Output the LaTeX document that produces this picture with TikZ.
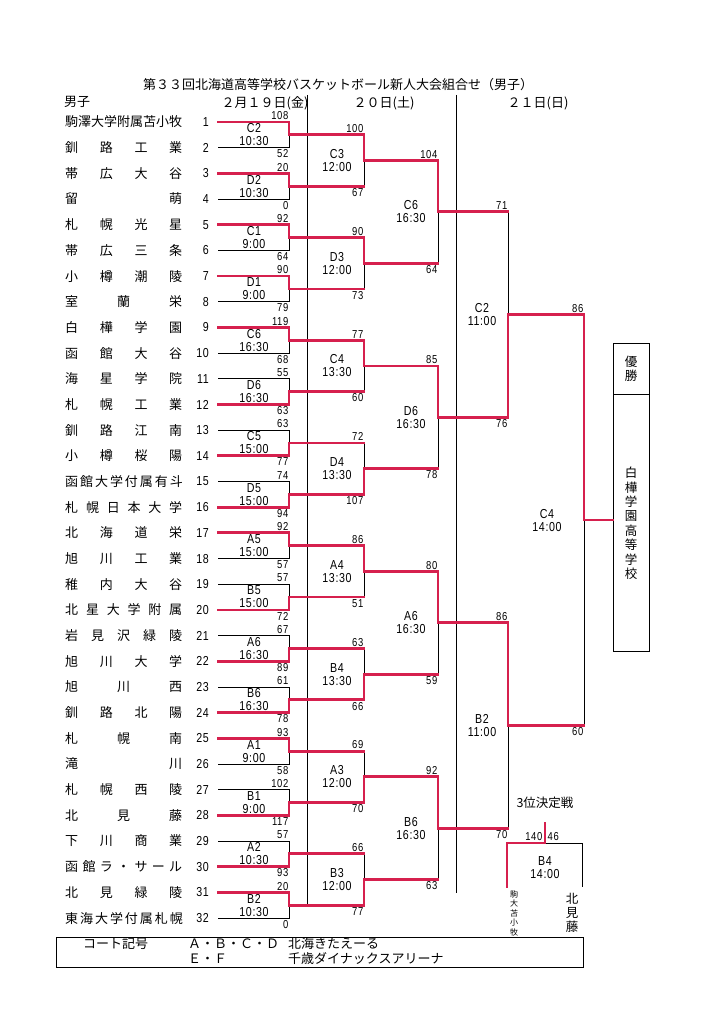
\documentclass[tikz,border=0pt]{standalone}
\usepackage{fontspec}
\setmainfont{Liberation Sans}
\newfontfamily\jp{Noto Sans CJK JP}
\newfontfamily\narrow[FakeStretch=0.82, LetterSpace=5]{Liberation Sans}
\usepackage{tikz}
\usetikzlibrary{positioning, calc}
\definecolor{winred}{RGB}{214,32,78}
\tikzstyle{team} = [anchor=west, inner sep=0pt, font=\jp\fontsize{13}{13}\selectfont]
\tikzstyle{num} = [anchor=east, inner xsep=9pt, inner ysep=0pt, font=\narrow\fontsize{13}{13}\selectfont]
\tikzstyle{score} = [inner xsep=0.5pt, inner ysep=2pt, font=\narrow\fontsize{11.5}{11.5}\selectfont]
\tikzstyle{game} = [align=center, inner sep=0pt, font=\narrow\fontsize{13}{13}\selectfont]
\tikzstyle{head} = [inner sep=0pt, font=\jp\fontsize{13}{13}\selectfont]
\tikzstyle{panel} = [draw, line width=0.8pt, minimum width=36pt, inner sep=0pt, align=center, font=\jp\fontsize{12.5}{14.4}\selectfont]
\tikzstyle{lose} = [draw=black, line width=0.8pt]
\tikzstyle{win} = [draw=winred, line width=2.8pt, line cap=rect]

% one row of the draw: number, school
\newcommand{\team}[2]{%
  \node[team] (t#1) at (65,{122+(#1-1)*25.68}) {\makebox[117pt][s]{#2}};
  \node[num] (n#1) at (218,{122+(#1-1)*25.68}) {#1};
}
% first round game
\newcommand{\opening}[7]{%
  \coordinate (#1) at ($(c1 |- #2)!.5!(c1 |- #3)$);
  \draw[lose] (#2) -- (c1 |- #2) -- (c1 |- #3) -- (#3);
  \draw[win] (#4) -- (c1 |- #4) -- (#1);
  \node[game] (#1-l) at ($(#1)+(-35,0)$) {#5};
  \node[score, anchor=south east] (#1-a) at (c1 |- #2) {#6};
  \node[score, anchor=north east] (#1-b) at (c1 |- #3) {#7};
}
% later game
\newcommand{\bout}[9]{%
  \coordinate (#1) at ($(#2 |- #3)!.5!(#2 |- #4)$);
  \draw[lose] (#2 |- #3) -- (#2 |- #4);
  \draw[win] (#3) -- (#2 |- #3);
  \draw[win] (#4) -- (#2 |- #4);
  \draw[win] (#2 |- #5) -- (#1);
  \node[game] (#1-l) at ($(#1)+(#7,0)$) {#6};
  \node[score, anchor=south east] (#1-a) at (#2 |- #3) {#8};
  \node[score, anchor=north east] (#1-b) at (#2 |- #4) {#9};
}

\begin{document}
\begin{tikzpicture}[x=1pt, y=-1pt]
\useasboundingbox (0,0) rectangle (724,1024);

\node[head] (title) at (338,85) {第３３回北海道高等学校バスケットボール新人大会組合せ（男子）};
\node[head, anchor=west] (boys) at (64,102) {男子};
\node[head] (day1) at (265,103) {２月１９日(金)};
\node[head] (day2) at (384,103) {２０日(土)};
\node[head] (day3) at (538,103) {２１日(日)};

\coordinate (d1a) at (307,95);
\coordinate (d1b) at (307,905);
\coordinate (d2a) at (456.5,95);
\coordinate (d2b) at (456.5,893);
\draw[lose] (d1a) -- (d1b);
\draw[lose] (d2a) -- (d2b);

\coordinate (c1) at (289,0);
\coordinate (c2) at (364,0);
\coordinate (c3) at (438,0);
\coordinate (c4) at (508,0);
\coordinate (c5) at (584,0);

\team{1}{駒澤大学附属苫小牧}
\team{2}{釧 路 工 業}
\team{3}{帯 広 大 谷}
\team{4}{留 萌}
\team{5}{札 幌 光 星}
\team{6}{帯 広 三 条}
\team{7}{小 樽 潮 陵}
\team{8}{室 蘭 栄}
\team{9}{白 樺 学 園}
\team{10}{函 館 大 谷}
\team{11}{海 星 学 院}
\team{12}{札 幌 工 業}
\team{13}{釧 路 江 南}
\team{14}{小 樽 桜 陽}
\team{15}{函 館 大 学 付 属 有 斗}
\team{16}{札 幌 日 本 大 学}
\team{17}{北 海 道 栄}
\team{18}{旭 川 工 業}
\team{19}{稚 内 大 谷}
\team{20}{北 星 大 学 附 属}
\team{21}{岩 見 沢 緑 陵}
\team{22}{旭 川 大 学}
\team{23}{旭 川 西}
\team{24}{釧 路 北 陽}
\team{25}{札 幌 南}
\team{26}{滝 川}
\team{27}{札 幌 西 陵}
\team{28}{北 見 藤}
\team{29}{下 川 商 業}
\team{30}{函 館 ラ ・ サ ー ル}
\team{31}{北 見 緑 陵}
\team{32}{東 海 大 学 付 属 札 幌}

% 19th
\opening{g1-1}{n1}{n2}{n1}{C2\\10:30}{108}{52}
\opening{g1-2}{n3}{n4}{n3}{D2\\10:30}{20}{0}
\opening{g1-3}{n5}{n6}{n5}{C1\\9:00}{92}{64}
\opening{g1-4}{n7}{n8}{n7}{D1\\9:00}{90}{79}
\opening{g1-5}{n9}{n10}{n9}{C6\\16:30}{119}{68}
\opening{g1-6}{n11}{n12}{n12}{D6\\16:30}{55}{63}
\opening{g1-7}{n13}{n14}{n14}{C5\\15:00}{63}{77}
\opening{g1-8}{n15}{n16}{n16}{D5\\15:00}{74}{94}
\opening{g1-9}{n17}{n18}{n17}{A5\\15:00}{92}{57}
\opening{g1-10}{n19}{n20}{n20}{B5\\15:00}{57}{72}
\opening{g1-11}{n21}{n22}{n22}{A6\\16:30}{67}{89}
\opening{g1-12}{n23}{n24}{n24}{B6\\16:30}{61}{78}
\opening{g1-13}{n25}{n26}{n25}{A1\\9:00}{93}{58}
\opening{g1-14}{n27}{n28}{n28}{B1\\9:00}{102}{117}
\opening{g1-15}{n29}{n30}{n30}{A2\\10:30}{57}{93}
\opening{g1-16}{n31}{n32}{n31}{B2\\10:30}{20}{0}

% 20th
\bout{g2-1}{c2}{g1-1}{g1-2}{g1-1}{C3\\12:00}{-27}{100}{67}
\bout{g2-2}{c2}{g1-3}{g1-4}{g1-3}{D3\\12:00}{-27}{90}{73}
\bout{g2-3}{c2}{g1-5}{g1-6}{g1-5}{C4\\13:30}{-27}{77}{60}
\bout{g2-4}{c2}{g1-7}{g1-8}{g1-8}{D4\\13:30}{-27}{72}{107}
\bout{g2-5}{c2}{g1-9}{g1-10}{g1-9}{A4\\13:30}{-27}{86}{51}
\bout{g2-6}{c2}{g1-11}{g1-12}{g1-12}{B4\\13:30}{-27}{63}{66}
\bout{g2-7}{c2}{g1-13}{g1-14}{g1-14}{A3\\12:00}{-27}{69}{70}
\bout{g2-8}{c2}{g1-15}{g1-16}{g1-16}{B3\\12:00}{-27}{66}{77}
\bout{g3-1}{c3}{g2-1}{g2-2}{g2-1}{C6\\16:30}{-27}{104}{64}
\bout{g3-2}{c3}{g2-3}{g2-4}{g2-3}{D6\\16:30}{-27}{85}{78}
\bout{g3-3}{c3}{g2-5}{g2-6}{g2-5}{A6\\16:30}{-27}{80}{59}
\bout{g3-4}{c3}{g2-7}{g2-8}{g2-7}{B6\\16:30}{-27}{92}{63}

% 21st
\bout{g4-1}{c4}{g3-1}{g3-2}{g3-2}{C2\\11:00}{-26}{71}{76}
\bout{g4-2}{c4}{g3-3}{g3-4}{g3-3}{B2\\11:00}{-26}{86}{70}
\bout{g5-1}{c5}{g4-1}{g4-2}{g4-1}{C4\\14:00}{-37}{86}{60}

\node[panel, minimum height=51pt] (yusho) at (631,368.5) {優\\勝};
\node[panel, minimum height=257pt, below=0pt of yusho] (champ) {白\\樺\\学\\園\\高\\等\\学\\校};
\draw[win] (g5-1) -- (g5-1 -| champ.west);

% third place
\node[head, font=\jp\fontsize{12.5}{12.5}\selectfont] (third) at (545,803) {3位決定戦};
\coordinate (b3l) at (507,887);
\coordinate (b3r) at (582,887);
\coordinate (b3m) at (545,843);
\coordinate (b3t) at (545,823);
\draw[lose] (b3l) |- (b3m) -| (b3r);
\draw[win] (b3l) |- (b3m) -- (b3t);
\node[score, anchor=south east] (b3-a) at (543,843) {140};
\node[score, anchor=south west] (b3-b) at (547,843) {46};
\node[game] (b3-l) at (545,868) {B4\\14:00};
\node[head, align=center, font=\jp\fontsize{8}{9.5}\selectfont] (kom) at (514,913) {駒\\大\\苫\\小\\牧};
\node[head, align=center, font=\jp\fontsize{12.5}{14}\selectfont] (kit) at (572,913) {北\\見\\藤};

\node[lose, minimum width=527pt, minimum height=30pt] (court) at (319.5,952) {};
\node[head, anchor=west] (leg1) at (83,944) {コート記号};
\node[head, anchor=west] (leg2) at (188,944) {Ａ・Ｂ・Ｃ・Ｄ};
\node[head, anchor=west] (leg3) at (288,944) {北海きたえーる};
\node[head, anchor=west] (leg4) at (188,959) {Ｅ・Ｆ};
\node[head, anchor=west] (leg5) at (288,959) {千歳ダイナックスアリーナ};

\end{tikzpicture}
\end{document}
